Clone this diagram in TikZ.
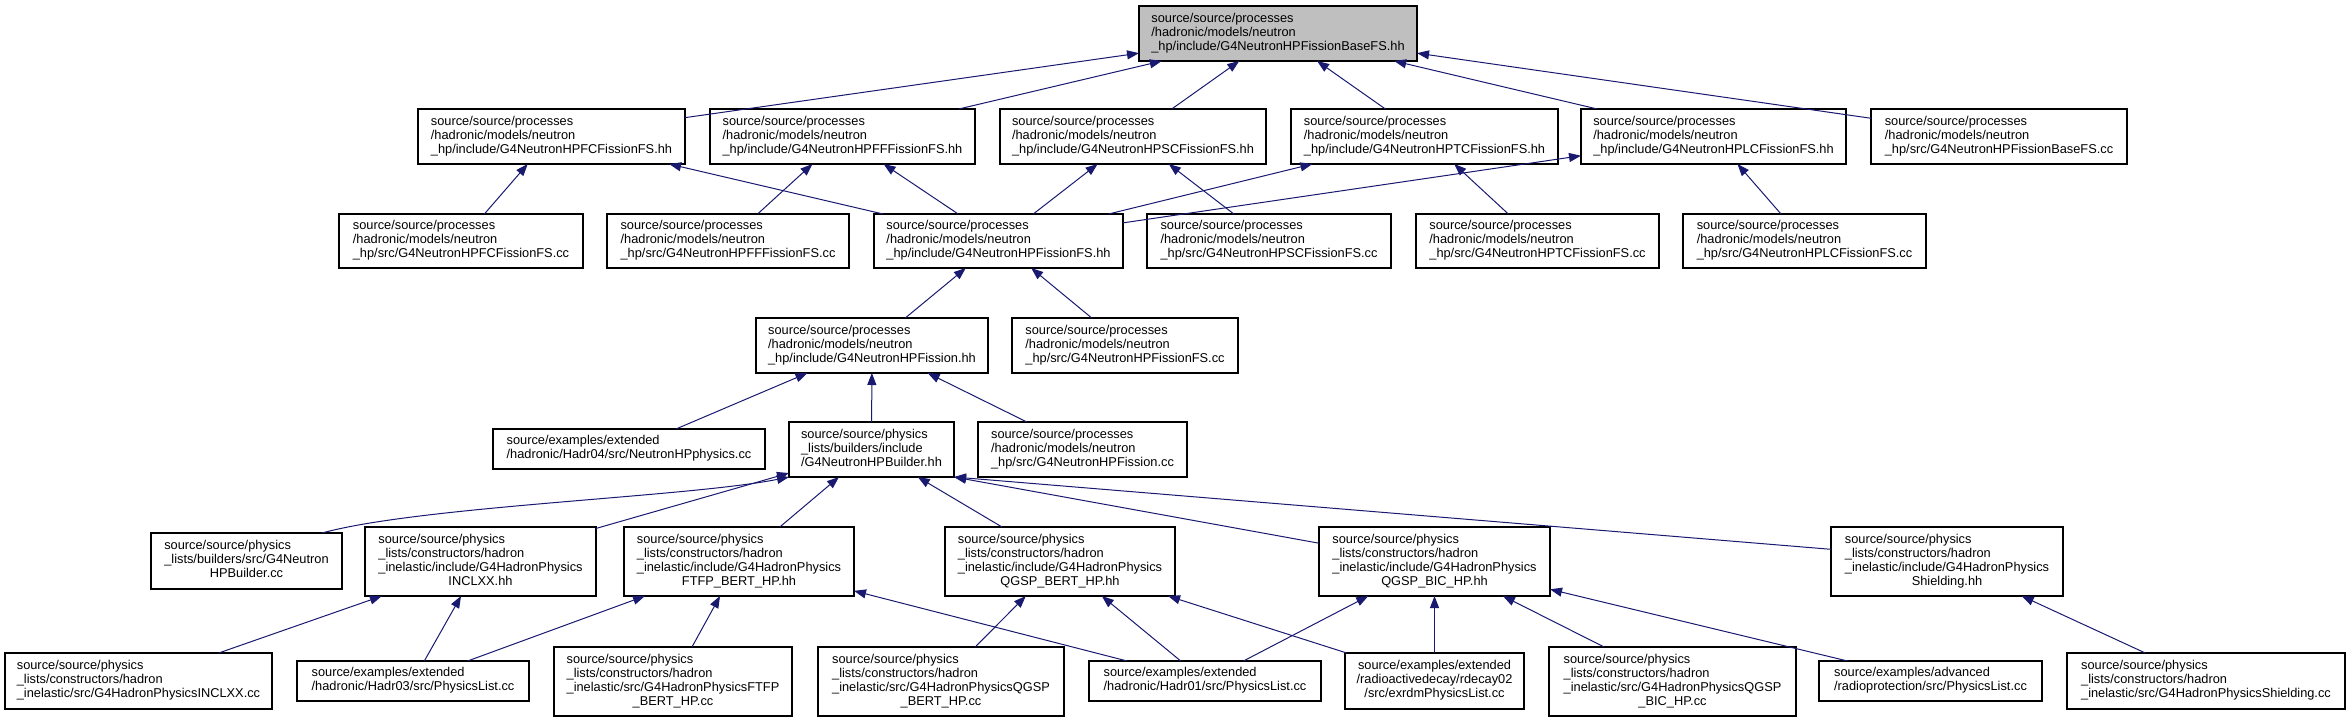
\documentclass[tikz,border=0pt]{standalone}
\usepackage{fontspec}
\newfontfamily\dotfont{Liberation Sans}
\usetikzlibrary{arrows.meta}
\definecolor{edgeblue}{HTML}{191970}
\definecolor{rootgray}{HTML}{BFBFBF}
\newcommand\lbl[2]{\begin{tabular}{@{}l@{}}#1\\\multicolumn{1}{@{}c@{}}{#2}\end{tabular}}
\newcommand\clbl[1]{\begin{tabular}{@{}c@{}}#1\end{tabular}}
\newcommand\bx[7][]{\node[box,#1,minimum width={#5-#3},minimum height={#6-#4}] (#2) at (#3,#4) {#7};}
\tikzset{
  box/.style={draw=black, line width=1.1pt, fill=white, inner sep=0pt, outer sep=0pt, anchor=north west,
    font=\dotfont\fontsize{12.8}{14}\selectfont},
  rootbox/.style={fill=rootgray},
  edge/.style={draw=edgeblue, line width=1pt, -{Triangle[length=12pt,width=9pt]}}
}
\begin{document}
\begin{tikzpicture}[x=1pt,y=-1pt]
\useasboundingbox (0,0) rectangle (2349,723);
% row A
\bx[rootbox]{root}{1139}{6}{1417}{61}{\lbl{source/source/processes\\/hadronic/models/neutron}{\_hp/include/G4NeutronHPFissionBaseFS.hh}}
% row B
\bx{fchh}{418}{109}{685}{164}{\lbl{source/source/processes\\/hadronic/models/neutron}{\_hp/include/G4NeutronHPFCFissionFS.hh}}
\bx{ffhh}{710}{109}{975}{164}{\lbl{source/source/processes\\/hadronic/models/neutron}{\_hp/include/G4NeutronHPFFFissionFS.hh}}
\bx{schh}{1000}{109}{1266}{164}{\lbl{source/source/processes\\/hadronic/models/neutron}{\_hp/include/G4NeutronHPSCFissionFS.hh}}
\bx{tchh}{1291}{109}{1558}{164}{\lbl{source/source/processes\\/hadronic/models/neutron}{\_hp/include/G4NeutronHPTCFissionFS.hh}}
\bx{lchh}{1581}{109}{1846}{164}{\lbl{source/source/processes\\/hadronic/models/neutron}{\_hp/include/G4NeutronHPLCFissionFS.hh}}
\bx{basecc}{1871}{109}{2127}{164}{\lbl{source/source/processes\\/hadronic/models/neutron}{\_hp/src/G4NeutronHPFissionBaseFS.cc}}
% row C
\bx{fccc}{339}{214}{583}{268}{\lbl{source/source/processes\\/hadronic/models/neutron}{\_hp/src/G4NeutronHPFCFissionFS.cc}}
\bx{ffcc}{607}{214}{849}{268}{\lbl{source/source/processes\\/hadronic/models/neutron}{\_hp/src/G4NeutronHPFFFissionFS.cc}}
\bx{fsshh}{874}{214}{1123}{268}{\lbl{source/source/processes\\/hadronic/models/neutron}{\_hp/include/G4NeutronHPFissionFS.hh}}
\bx{sccc}{1147}{214}{1391}{268}{\lbl{source/source/processes\\/hadronic/models/neutron}{\_hp/src/G4NeutronHPSCFissionFS.cc}}
\bx{tccc}{1416}{214}{1659}{268}{\lbl{source/source/processes\\/hadronic/models/neutron}{\_hp/src/G4NeutronHPTCFissionFS.cc}}
\bx{lccc}{1683}{214}{1926}{268}{\lbl{source/source/processes\\/hadronic/models/neutron}{\_hp/src/G4NeutronHPLCFissionFS.cc}}
% row D
\bx{fishh}{756}{318}{988}{373}{\lbl{source/source/processes\\/hadronic/models/neutron}{\_hp/include/G4NeutronHPFission.hh}}
\bx{fsscc}{1012}{318}{1238}{373}{\lbl{source/source/processes\\/hadronic/models/neutron}{\_hp/src/G4NeutronHPFissionFS.cc}}
% row E
\bx{hadr04}{493}{429}{765}{469}{\lbl{source/examples/extended}{/hadronic/Hadr04/src/NeutronHPphysics.cc}}
\bx{bhh}{789}{422}{954}{477}{\lbl{source/source/physics\\\_lists/builders/include}{/G4NeutronHPBuilder.hh}}
\bx{fiscc}{978}{422}{1187}{477}{\lbl{source/source/processes\\/hadronic/models/neutron}{\_hp/src/G4NeutronHPFission.cc}}
% row F
\bx{bcc}{151}{533}{342}{589}{\lbl{source/source/physics\\\_lists/builders/src/G4Neutron}{HPBuilder.cc}}
\bx{inclhh}{365}{527}{596}{596}{\lbl{source/source/physics\\\_lists/constructors/hadron\\\_inelastic/include/G4HadronPhysics}{INCLXX.hh}}
\bx{ftfphh}{624}{527}{854}{596}{\lbl{source/source/physics\\\_lists/constructors/hadron\\\_inelastic/include/G4HadronPhysics}{FTFP\_BERT\_HP.hh}}
\bx{qberthh}{945}{527}{1175}{596}{\lbl{source/source/physics\\\_lists/constructors/hadron\\\_inelastic/include/G4HadronPhysics}{QGSP\_BERT\_HP.hh}}
\bx{qbichh}{1319}{527}{1550}{596}{\lbl{source/source/physics\\\_lists/constructors/hadron\\\_inelastic/include/G4HadronPhysics}{QGSP\_BIC\_HP.hh}}
\bx{shieldhh}{1831}{527}{2063}{596}{\lbl{source/source/physics\\\_lists/constructors/hadron\\\_inelastic/include/G4HadronPhysics}{Shielding.hh}}
% row G
\bx{inclcc}{5}{653}{272}{709}{\lbl{source/source/physics\\\_lists/constructors/hadron}{\_inelastic/src/G4HadronPhysicsINCLXX.cc}}
\bx{hadr03}{297}{661}{529}{701}{\lbl{source/examples/extended}{/hadronic/Hadr03/src/PhysicsList.cc}}
\bx{ftfpcc}{554}{647}{792}{716}{\lbl{source/source/physics\\\_lists/constructors/hadron\\\_inelastic/src/G4HadronPhysicsFTFP}{\_BERT\_HP.cc}}
\bx{qbertcc}{818}{647}{1064}{716}{\lbl{source/source/physics\\\_lists/constructors/hadron\\\_inelastic/src/G4HadronPhysicsQGSP}{\_BERT\_HP.cc}}
\bx{hadr01}{1089}{661}{1321}{701}{\lbl{source/examples/extended}{/hadronic/Hadr01/src/PhysicsList.cc}}
\bx{rdecay}{1345}{653}{1524}{709}{\clbl{source/examples/extended\\/radioactivedecay/rdecay02\\/src/exrdmPhysicsList.cc}}
\bx{qbiccc}{1549}{647}{1796}{716}{\lbl{source/source/physics\\\_lists/constructors/hadron\\\_inelastic/src/G4HadronPhysicsQGSP}{\_BIC\_HP.cc}}
\bx{radio}{1819}{661}{2042}{701}{\lbl{source/examples/advanced}{/radioprotection/src/PhysicsList.cc}}
\bx{shieldcc}{2067}{653}{2345}{709}{\lbl{source/source/physics\\\_lists/constructors/hadron}{\_inelastic/src/G4HadronPhysicsShielding.cc}}
% edges to root
\draw[edge] (fchh) -- (root);
\draw[edge] (ffhh) -- (root);
\draw[edge] (schh) -- (root);
\draw[edge] (tchh) -- (root);
\draw[edge] (lchh) -- (root);
\draw[edge] (basecc) -- (root);
% row C to row B
\draw[edge] (fccc) -- (fchh);
\draw[edge] (fsshh) -- (fchh);
\draw[edge] (ffcc) -- (ffhh);
\draw[edge] (fsshh) -- (ffhh);
\draw[edge] (fsshh) -- (schh);
\draw[edge] (sccc) -- (schh);
\draw[edge] (fsshh) -- (tchh);
\draw[edge] (tccc) -- (tchh);
\draw[edge] (fsshh) -- (lchh);
\draw[edge] (lccc) -- (lchh);
% row D
\draw[edge] (fishh) -- (fsshh);
\draw[edge] (fsscc) -- (fsshh);
% row E
\draw[edge] (hadr04) -- (fishh);
\draw[edge] (bhh) -- (fishh);
\draw[edge] (fiscc) -- (fishh);
% row F to builder
\draw[edge] ([xshift=-20pt]bcc.north east) .. controls (420,506) and (690,497) .. (bhh.south west);
\draw[edge] (inclhh) -- (bhh);
\draw[edge] (ftfphh) -- (bhh);
\draw[edge] (qberthh) -- (bhh);
\draw[edge] (qbichh.171) -- (bhh.south east);
\draw[edge] (shieldhh.174) -- (bhh.south east);
% row G
\draw[edge] (inclcc) -- (inclhh);
\draw[edge] (hadr03) -- (inclhh);
\draw[edge] (hadr03) -- (ftfphh);
\draw[edge] (ftfpcc) -- (ftfphh);
\draw[edge] (hadr01) -- (ftfphh);
\draw[edge] (qbertcc) -- (qberthh);
\draw[edge] (hadr01) -- (qberthh);
\draw[edge] (rdecay) -- (qberthh);
\draw[edge] (hadr01) -- (qbichh);
\draw[edge] (rdecay) -- (qbichh);
\draw[edge] (qbiccc) -- (qbichh);
\draw[edge] (radio) -- (qbichh);
\draw[edge] (shieldcc) -- (shieldhh);
\end{tikzpicture}
\end{document}
